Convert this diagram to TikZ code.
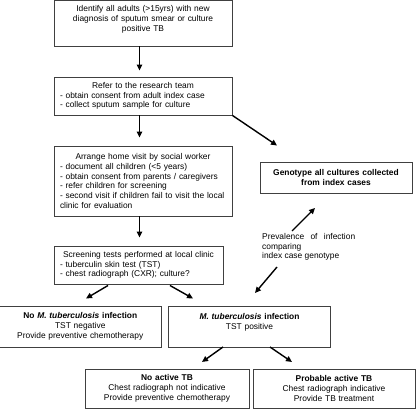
\documentclass[tikz,border=0pt]{standalone}
\usepackage{fontspec}
\setmainfont{Liberation Sans}
\usetikzlibrary{arrows.meta}
\begin{document}
\begin{tikzpicture}[x=1pt,y=-1pt,
  font=\fontsize{8.4}{9.8}\selectfont,
  box/.style={draw=black!75, line width=0.9pt, inner xsep=6pt, inner ysep=0pt, align=center},
  lbox/.style={box, align=left},
  arr/.style={line width=1.4pt, -{Triangle[length=6pt,width=5.5pt]}}]
\useasboundingbox (0,0) rectangle (416,409);
\fill[white] (0,0) rectangle (416,409);
% boxes
\node[box, minimum width=178pt, minimum height=45.5pt, text width=166pt] (b1) at (143,23.25)
  {Identify all adults (>15yrs) with new\\diagnosis of sputum smear or culture\\positive TB\\\mbox{}};
\node[lbox, minimum width=178pt, minimum height=38pt, text width=166pt] (b2) at (143,96)
  {\makebox[166pt]{Refer to the research team}\\- obtain consent from adult index case\\- collect sputum sample for culture};
\node[lbox, minimum width=178pt, minimum height=70pt, text width=166pt] (b3) at (143,181)
  {\makebox[166pt]{Arrange home visit by social worker}\\- document all children (<5 years)\\- obtain consent from parents / caregivers\\- refer children for screening\\\mbox{- second visit if children fail to visit the local}\\clinic for evaluation};
\node[lbox, minimum width=169pt, minimum height=38pt, text width=157pt] (b4) at (138.5,265)
  {\makebox[157pt]{Screening tests performed at local clinic}\\- tuberculin skin test (TST)\\- chest radiograph (CXR); culture?};
\node[box, minimum width=148pt, minimum height=31pt, text width=140pt, font=\fontsize{8.4}{9.8}\selectfont\bfseries] (g) at (336,177.5)
  {Genotype all cultures collected\\from index cases};
\node[box, minimum width=159.5pt, minimum height=41pt, text width=150pt] (b5) at (80.25,326.5)
  {\textbf{No \textit{M. tuberculosis} infection}\\TST negative\\Provide preventive chemotherapy};
\node[box, minimum width=159pt, minimum height=41pt, text width=150pt] (b6) at (249.5,326.5)
  {\textbf{\textit{M. tuberculosis} infection}\\TST positive\\\mbox{}};
\node[box, minimum width=164pt, minimum height=39pt, text width=152pt] (b7) at (167,388.5)
  {\textbf{No active TB}\\Chest radiograph not indicative\\Provide preventive chemotherapy};
\node[box, minimum width=162pt, minimum height=39pt, text width=150pt] (b8) at (334,388.5)
  {\textbf{Probable active TB}\\Chest radiograph indicative\\Provide TB treatment};
% side text
\node[anchor=north west, inner sep=0pt, align=left] (prev) at (262,233)
  {\makebox[93pt][l]{Prevalence\hfill of\hfill infection}\\comparing\\index case genotype};
% free ends
\coordinate (e3) at (277,145.5);
\coordinate (s5) at (292,231);
\coordinate (e5) at (315,208);
\coordinate (s6) at (277,267);
\coordinate (e6) at (255,293);
\coordinate (s7) at (108,285.5);
\coordinate (e7) at (86,298.5);
\coordinate (s8) at (170,285.5);
\coordinate (e8) at (193,298.5);
\coordinate (s9) at (223,347);
\coordinate (e9) at (202,362);
\coordinate (s10) at (270,347);
\coordinate (e10) at (292,362);
% connectors
\draw[arr] ([xshift=-3.5pt]b1.south) -- ([xshift=-3.5pt,yshift=6pt]b2.north);
\draw[arr] ([xshift=-3.5pt]b2.south) -- ([xshift=-3.5pt,yshift=8pt]b3.north);
\draw[arr] (b2.south east) -- (e3);
\draw[arr] ([xshift=-3.5pt]b3.south) -- ([xshift=1pt,yshift=8pt]b4.north);
\draw[arr] (s5) -- (e5);
\draw[arr] (s6) -- (e6);
\draw[arr] (s7) -- (e7);
\draw[arr] (s8) -- (e8);
\draw[arr] (s9) -- (e9);
\draw[arr] (s10) -- (e10);
\end{tikzpicture}
\end{document}
